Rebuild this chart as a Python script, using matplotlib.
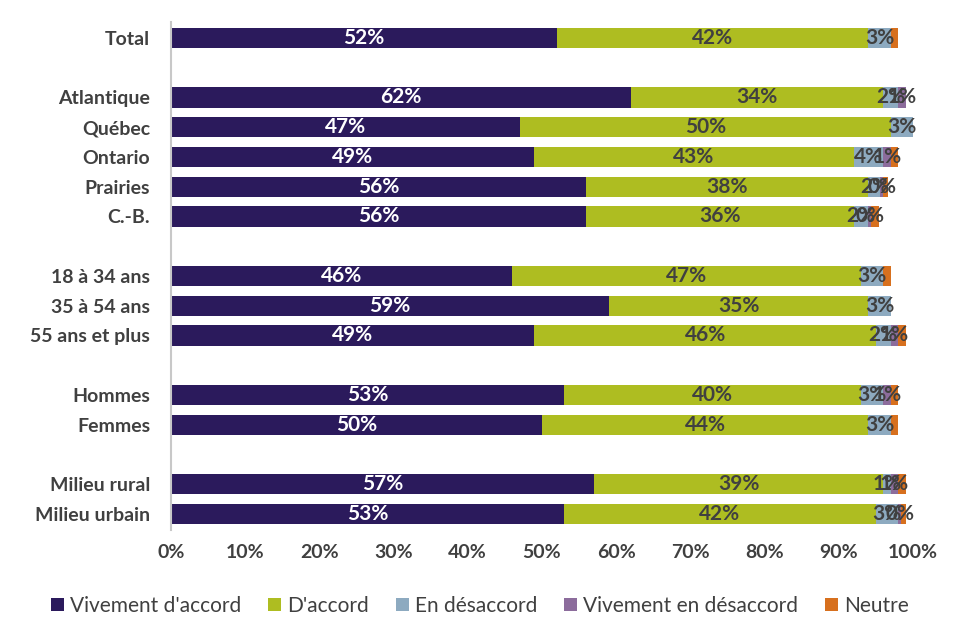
import matplotlib
matplotlib.use("Agg")
import matplotlib.pyplot as plt

plt.rcParams['font.family'] = ['Lato', 'DejaVu Sans']

categories = ['Total', 'Atlantique', 'Québec', 'Ontario', 'Prairies', 'C.-B.',
              '18 à 34 ans', '35 à 54 ans', '55 ans et plus',
              'Hommes', 'Femmes', 'Milieu rural', 'Milieu urbain']
rows = [0, 2, 3, 4, 5, 6, 8, 9, 10, 12, 13, 15, 16]

series = ["Vivement d'accord", "D'accord", 'En désaccord', 'Vivement en désaccord', 'Neutre']
vivement_accord = [52, 62, 47, 49, 56, 56, 46, 59, 49, 53, 50, 57, 53]
accord = [42, 34, 50, 43, 38, 36, 47, 35, 46, 40, 44, 39, 42]
desaccord = [3, 2, 3, 4, 1.6, 2, 3, 3, 2, 3, 3, 1, 3]
vivement_desaccord = [0, 1, 0, 1, 0.4, 0.4, 0, 0, 1, 1, 0, 1, 0.4]
neutre = [1, 0, 0, 1, 0.6, 1, 1, 0, 1, 1, 1, 1, 0.7]

colors = ['#2B1A5C', '#AEBD21', '#8DAAC0', '#8C6C9C', '#D7701E']
text_colors = ['white', '#404040', '#404040', '#404040', None]

fig = plt.figure(figsize=(9.6, 6.41), dpi=100)
ax = fig.add_axes([0.178, 0.173, 0.773, 0.793])

left = [0] * len(categories)
for vals, name, c, tc in zip([vivement_accord, accord, desaccord, vivement_desaccord, neutre],
                             series, colors, text_colors):
    ax.barh(rows, vals, left=left, height=0.68, color=c, label=name)
    if tc is not None:
        for r, l, v in zip(rows, left, vals):
            if v > 0:
                ax.text(l + v / 2, r, f'{v:.0f}%', ha='center', va='center',
                        color=tc, fontsize=15, fontweight='bold')
    left = [a + b for a, b in zip(left, vals)]

ax.set_xlim(0, 100)
ax.set_ylim(16.54, -0.54)
ax.set_yticks(rows)
ax.set_yticklabels(categories, fontsize=14, fontweight='bold', color='#404040')
ax.set_xticks(range(0, 101, 10))
ax.set_xticklabels([f'{t}%' for t in range(0, 101, 10)], fontsize=14, fontweight='bold', color='#404040')
ax.tick_params(axis='y', length=0, pad=15)
ax.tick_params(axis='x', length=0, pad=10)
for s in ['top', 'right', 'bottom']:
    ax.spines[s].set_visible(False)
ax.spines['left'].set_color('#C8C8C8')
ax.spines['left'].set_linewidth(1.5)

fig.legend(loc='center', bbox_to_anchor=(0.5, 0.055), ncol=5, frameon=False,
           fontsize=15, handlelength=0.6, handleheight=0.6, handletextpad=0.3,
           columnspacing=1.3, labelcolor='#404040')

fig.savefig('out.png', dpi=100)
